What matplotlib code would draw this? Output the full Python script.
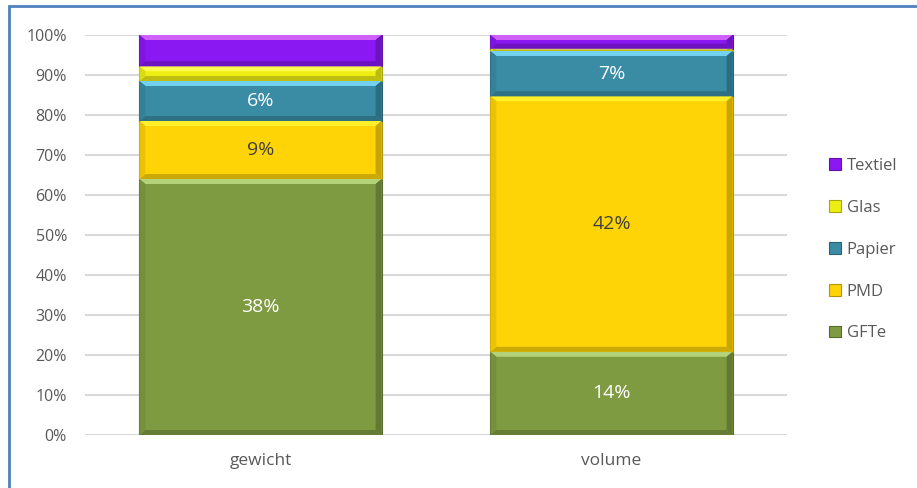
import matplotlib
matplotlib.use("Agg")
import matplotlib.pyplot as plt
from matplotlib.patches import Rectangle, Polygon, Patch
import matplotlib.colors as mcolors
import numpy as np

plt.rcParams['font.family'] = ['Open Sans', 'DejaVu Sans']

categories = ["gewicht", "volume"]
series = ["GFTe", "PMD", "Papier", "Glas", "Textiel"]
# share of each bar (percent)
gfte = [64.0, 20.8]
pmd = [14.5, 63.9]
papier = [10.0, 11.3]
glas = [3.7, 0.6]
textiel = [7.8, 3.4]
# data labels shown in the bars
gfte_lbl = ["38%", "14%"]
pmd_lbl = ["9%", "42%"]
papier_lbl = ["6%", "7%"]
glas_lbl = ["", ""]
textiel_lbl = ["", ""]

colors = {"GFTe": "#7F9B42", "PMD": "#FFD406", "Papier": "#3A8CA5",
          "Glas": "#EEEE14", "Textiel": "#8A18F2"}
highlights = {"GFTe": "#B4D27A", "PMD": "#FFF02A", "Papier": "#72D2EE",
              "Glas": "#FAFA50", "Textiel": "#D060FA"}
label_colors = {"GFTe": "white", "PMD": "#404040", "Papier": "white",
                "Glas": "#404040", "Textiel": "white"}

values = [gfte, pmd, papier, glas, textiel]
labels = [gfte_lbl, pmd_lbl, papier_lbl, glas_lbl, textiel_lbl]

W, H = 917, 488
fig = plt.figure(figsize=(W / 100, H / 100), dpi=100)
ax = fig.add_axes([85 / W, (H - 435) / H, (787 - 85) / W, 400 / H])

x = np.arange(len(categories))
width = 0.69
bottom = np.zeros(len(categories))


def shade(c, f):
    r, g, b = mcolors.to_rgb(c)
    if f > 0:
        return (r + (1 - r) * f, g + (1 - g) * f, b + (1 - b) * f)
    return (r * (1 + f), g * (1 + f), b * (1 + f))


px_x = 1.0 / 351.0  # data units per pixel (x)
px_y = 0.25         # data units per pixel (y)

for name, vals, lbls in zip(series, values, labels):
    bars = ax.bar(x, vals, width, bottom=bottom, color=colors[name],
                  edgecolor=shade(colors[name], -0.3), linewidth=0.8, zorder=3)
    for rect, lbl in zip(bars, lbls):
        x0, y0 = rect.get_x(), rect.get_y()
        w, h = rect.get_width(), rect.get_height()
        bx = min(6 * px_x, w / 2)
        by = min(5 * px_y, h / 2)
        c = colors[name]
        # top highlight
        ax.add_patch(Polygon([(x0, y0 + h), (x0 + w, y0 + h), (x0 + w - bx, y0 + h - by),
                              (x0 + bx, y0 + h - by)], closed=True,
                             facecolor=highlights[name], edgecolor='none', zorder=4))
        # bottom shadow
        ax.add_patch(Polygon([(x0, y0), (x0 + w, y0), (x0 + w - bx, y0 + by),
                              (x0 + bx, y0 + by)], closed=True,
                             facecolor=shade(c, -0.2), edgecolor='none', zorder=4))
        # sides
        ax.add_patch(Polygon([(x0, y0), (x0 + bx, y0 + by), (x0 + bx, y0 + h - by),
                              (x0, y0 + h)], closed=True,
                             facecolor=shade(c, -0.08), edgecolor='none', zorder=4))
        ax.add_patch(Polygon([(x0 + w, y0), (x0 + w - bx, y0 + by), (x0 + w - bx, y0 + h - by),
                              (x0 + w, y0 + h)], closed=True,
                             facecolor=shade(c, -0.22), edgecolor='none', zorder=4))
        if lbl:
            ax.text(x0 + w / 2, y0 + h / 2, lbl, ha='center', va='center',
                    fontsize=14, color=label_colors[name], zorder=5)
    bottom = bottom + np.array(vals)

ax.set_xlim(-0.5, len(categories) - 0.5)
ax.set_ylim(0, 100)
ax.set_yticks(np.arange(0, 101, 10))
ax.set_yticklabels([f"{v}%" for v in range(0, 101, 10)])
ax.set_xticks(x)
ax.set_xticklabels(categories)
ax.tick_params(axis='y', length=0, pad=13, labelsize=11.5, labelcolor="#595959")
ax.tick_params(axis='x', length=0, pad=13, labelsize=12.5, labelcolor="#595959")
for s in ax.spines.values():
    s.set_visible(False)
ax.yaxis.grid(True, color="#D9D9D9", linewidth=1.5, zorder=0)
ax.set_axisbelow(True)

handles = [Patch(facecolor=colors[n], edgecolor=shade(colors[n], -0.3), linewidth=0.8)
           for n in reversed(series)]
leg = fig.legend(handles, list(reversed(series)), loc='upper left',
                 bbox_to_anchor=(814 / W, 1 - 143 / H), frameon=False,
                 fontsize=12, labelcolor="#595959", handlelength=0.7,
                 handleheight=0.7, handletextpad=0.35, labelspacing=1.55)

# outer frame
fig.patches.append(Rectangle((8.5 / W, -0.1), 1.2, 1 - 6.5 / H + 0.1,
                             transform=fig.transFigure, fill=False,
                             edgecolor="#4F81BD", linewidth=2, figure=fig))

fig.savefig("out.png", dpi=100)
